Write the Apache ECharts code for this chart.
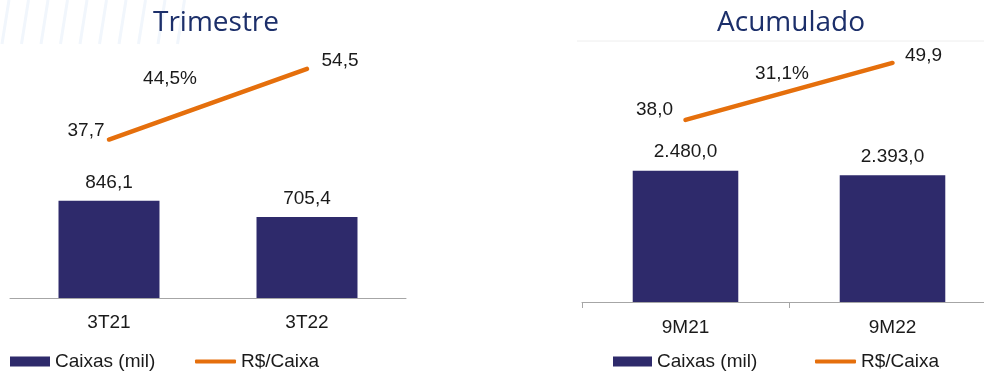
<!DOCTYPE html>
<html>
<head>
<meta charset="utf-8">
<script src="https://cdn.jsdelivr.net/npm/echarts@6/dist/echarts.min.js"></script>
<style>
  html, body { margin: 0; padding: 0; background: #ffffff; overflow: hidden; }
  /* the right panel's axis runs a little past the window edge */
  #chart { width: 1000px; height: 378px; }
</style>
</head>
<body>
<div id="chart"></div>
<script>
// Quarter panel
const quarterCategories = ['3T21', '3T22'];
const quarterBoxes = [846.1, 705.4];      // Caixas (mil)
const quarterPerBox = [37.7, 54.5];       // R$/Caixa
const quarterGrowth = '44,5%';

// Year-to-date panel
const ytdCategories = ['9M21', '9M22'];
const ytdBoxes = [2480.0, 2393.0];        // Caixas (mil)
const ytdPerBox = [38.0, 49.9];           // R$/Caixa
const ytdGrowth = '31,1%';

const panelTitles = ['Trimestre', 'Acumulado'];
const seriesNames = ['Caixas (mil)', 'R$/Caixa'];

const BAR_COLOR = '#2e2a6b';
const LINE_COLOR = '#e56f0c';
const TEXT_COLOR = '#1a1a1a';
const FONT = '"Liberation Sans", Arial, sans-serif';

// pt-BR number format: 2480 -> "2.480,0"
function fmt(v) {
  const parts = v.toFixed(1).split('.');
  const int = parts[0].replace(/\B(?=(\d{3})+(?!\d))/g, '.');
  return int + ',' + parts[1];
}

function lineData(values, labelPlacement) {
  return values.map((v, i) => ({
    value: v,
    label: labelPlacement[i]
  }));
}

const labelBase = { show: true, color: TEXT_COLOR, fontSize: 19, fontFamily: FONT, formatter: p => fmt(p.value) };
const legendText = { color: TEXT_COLOR, fontSize: 19, fontFamily: FONT };

const chart = echarts.init(document.getElementById('chart'), null, { renderer: 'canvas' });

// faint diagonal stripes in the top-left corner
const stripes = [];
for (let k = 0; k < 10; k++) {
  const x0 = 2 + k * 19.5;
  stripes.push({
    type: 'line', silent: true, z: -10,
    shape: { x1: x0, y1: 44, x2: x0 + 7, y2: 0 },
    style: { stroke: '#f1f6fc', lineWidth: 3 }
  });
}

chart.setOption({
  animation: false,
  backgroundColor: '#ffffff',
  grid: [
    { left: 10, top: 50, width: 396, height: 248, containLabel: false },
    { left: 582, top: 50, width: 414, height: 252, containLabel: false }
  ],
  xAxis: [
    {
      gridIndex: 0, type: 'category', data: quarterCategories,
      axisLine: { lineStyle: { color: '#a6a6a6', width: 1 } },
      axisTick: { show: false },
      axisLabel: { color: TEXT_COLOR, fontSize: 19, fontFamily: FONT, margin: 15 }
    },
    {
      gridIndex: 1, type: 'category', data: ytdCategories,
      axisLine: { lineStyle: { color: '#a6a6a6', width: 1 } },
      axisTick: { show: true, length: 6, lineStyle: { color: '#a6a6a6' } },
      axisLabel: { color: TEXT_COLOR, fontSize: 19, fontFamily: FONT, margin: 16 }
    }
  ],
  yAxis: [
    { gridIndex: 0, type: 'value', min: 0, max: 2160, show: false, splitLine: { show: false } },
    { gridIndex: 0, type: 'value', min: 0, max: 59, show: false, splitLine: { show: false } },
    { gridIndex: 1, type: 'value', min: 0, max: 4760, show: false, splitLine: { show: false } },
    { gridIndex: 1, type: 'value', min: 0, max: 52.6, show: false, splitLine: { show: false } }
  ],
  legend: [
    { data: [{ name: seriesNames[0], icon: 'rect' }], left: 10, top: 352, padding: 0,
      itemWidth: 40, itemHeight: 10, textStyle: legendText, selectedMode: false },
    { data: [{ name: seriesNames[1], icon: 'roundRect' }], left: 195, top: 352, padding: 0,
      itemWidth: 41, itemHeight: 4, textStyle: legendText, selectedMode: false },
    { data: [{ name: seriesNames[0], icon: 'rect' }], left: 613, top: 352, padding: 0,
      itemWidth: 39, itemHeight: 10, textStyle: legendText, selectedMode: false },
    { data: [{ name: seriesNames[1], icon: 'roundRect' }], left: 815, top: 352, padding: 0,
      itemWidth: 41, itemHeight: 4, textStyle: legendText, selectedMode: false }
  ],
  series: [
    {
      name: seriesNames[0], type: 'bar', xAxisIndex: 0, yAxisIndex: 0,
      data: quarterBoxes, barWidth: '51%',
      itemStyle: { color: BAR_COLOR },
      label: Object.assign({}, labelBase, { position: 'top', distance: 9 })
    },
    {
      name: seriesNames[1], type: 'line', xAxisIndex: 0, yAxisIndex: 1,
      data: lineData(quarterPerBox, [
        { position: 'left', distance: 4, offset: [0, -9] },
        { position: 'right', distance: 14, offset: [0, -8] }
      ]),
      symbol: 'circle', symbolSize: 1, showSymbol: true,
      itemStyle: { color: LINE_COLOR },
      lineStyle: { color: LINE_COLOR, width: 4.5, cap: 'round' },
      label: labelBase
    },
    {
      name: seriesNames[0], type: 'bar', xAxisIndex: 1, yAxisIndex: 2,
      data: ytdBoxes, barWidth: '51%',
      itemStyle: { color: BAR_COLOR },
      label: Object.assign({}, labelBase, { position: 'top', distance: 9 })
    },
    {
      name: seriesNames[1], type: 'line', xAxisIndex: 1, yAxisIndex: 3,
      data: lineData(ytdPerBox, [
        { position: 'left', distance: 12, offset: [0, -10] },
        { position: 'right', distance: 12, offset: [0, -7] }
      ]),
      symbol: 'circle', symbolSize: 1, showSymbol: true,
      itemStyle: { color: LINE_COLOR },
      lineStyle: { color: LINE_COLOR, width: 4.5, cap: 'round' },
      label: labelBase
    }
  ],
  graphic: stripes.concat([
    {
      type: 'text', x: 216, y: 23,
      style: { text: panelTitles[0], fill: '#1c2f6a', fontSize: 28, fontFamily: '"Open Sans", sans-serif',
               align: 'center', verticalAlign: 'middle' }
    },
    {
      type: 'text', x: 791, y: 23,
      style: { text: panelTitles[1], fill: '#1c2f6a', fontSize: 28, fontFamily: '"Open Sans", sans-serif',
               align: 'center', verticalAlign: 'middle' }
    },
    {
      type: 'line', silent: true,
      shape: { x1: 577, y1: 41, x2: 984, y2: 41 },
      style: { stroke: '#eeeeee', lineWidth: 1 }
    },
    {
      type: 'text', x: 170, y: 79,
      style: { text: quarterGrowth, fill: TEXT_COLOR, fontSize: 19, fontFamily: FONT,
               align: 'center', verticalAlign: 'middle' }
    },
    {
      type: 'text', x: 782, y: 74,
      style: { text: ytdGrowth, fill: TEXT_COLOR, fontSize: 19, fontFamily: FONT,
               align: 'center', verticalAlign: 'middle' }
    }
  ])
});
</script>
</body>
</html>
